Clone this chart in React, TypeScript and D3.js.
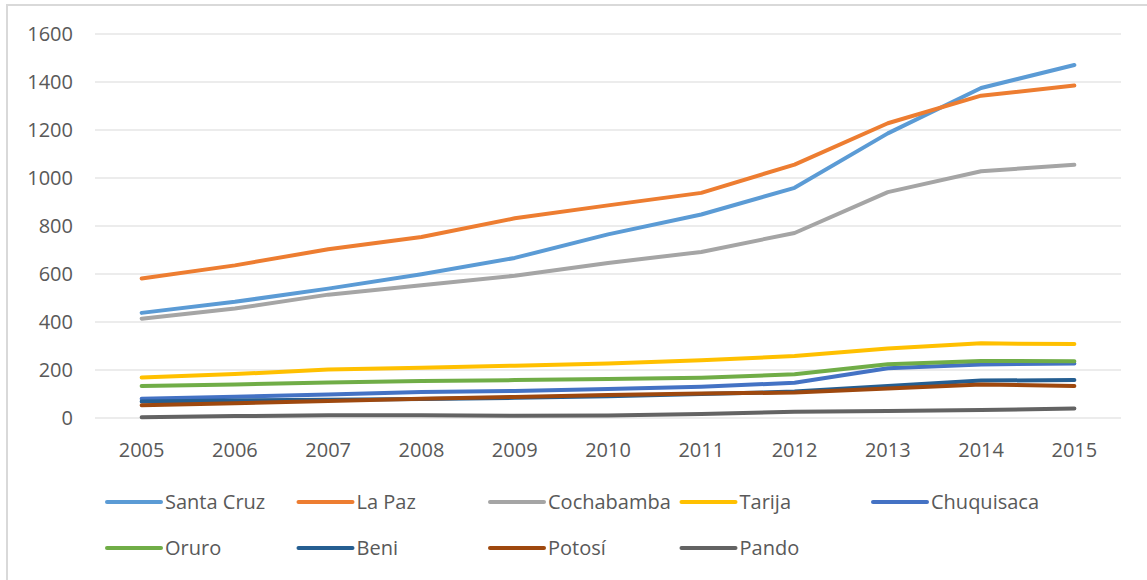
import React, { useEffect, useRef } from 'react';
import * as d3 from 'd3';

const years = ['2005', '2006', '2007', '2008', '2009', '2010', '2011', '2012', '2013', '2014', '2015'];
const yTicks = [0, 200, 400, 600, 800, 1000, 1200, 1400, 1600];

const santaCruz = [438, 484, 539, 599, 667, 765, 848, 959, 1186, 1375, 1471];
const laPaz = [581, 636, 703, 754, 832, 886, 938, 1056, 1228, 1343, 1385];
const cochabamba = [414, 456, 514, 553, 593, 646, 692, 771, 941, 1028, 1055];
const tarija = [169, 183, 202, 209, 218, 227, 241, 258, 290, 311, 308];
const chuquisaca = [80, 89, 98, 108, 113, 121, 130, 147, 207, 223, 227];
const oruro = [133, 140, 148, 154, 158, 162, 168, 182, 224, 238, 236];
const beni = [69, 73, 76, 79, 84, 91, 100, 110, 133, 156, 158];
const potosi = [53, 61, 71, 80, 88, 96, 102, 106, 123, 140, 133];
const pando = [3, 8, 11, 11, 9, 10, 17, 26, 29, 33, 40];

const series = [
    { name: 'Santa Cruz', color: '#5B9BD5', values: santaCruz },
    { name: 'La Paz', color: '#ED7D31', values: laPaz },
    { name: 'Cochabamba', color: '#A5A5A5', values: cochabamba },
    { name: 'Tarija', color: '#FFC000', values: tarija },
    { name: 'Chuquisaca', color: '#4472C4', values: chuquisaca },
    { name: 'Oruro', color: '#70AD47', values: oruro },
    { name: 'Beni', color: '#255E91', values: beni },
    { name: 'Potosí', color: '#9E480E', values: potosi },
    { name: 'Pando', color: '#636363', values: pando },
];

const W = 1147;
const H = 580;
const FONT = '"Open Sans", "Noto Sans", sans-serif';

export default function App() {
    const svgRef = useRef<SVGSVGElement>(null);

    useEffect(() => {
        if (!svgRef.current) return;
        const svg = d3.select(svgRef.current);
        svg.selectAll('*').remove();

        const margin = { top: 34, left: 95, right: 26, bottom: 162 };

        const x = d3.scaleBand()
            .domain(years)
            .range([margin.left, W - margin.right]);
        const y = d3.scaleLinear()
            .domain([0, 1600])
            .range([H - margin.bottom, margin.top]);
        const cx = (d: string) => (x(d) as number) + x.bandwidth() / 2;

        // chart area border
        svg.append('rect')
            .attr('x', 7).attr('y', 5)
            .attr('width', W + 20).attr('height', H + 20)
            .attr('fill', 'white')
            .attr('stroke', '#d9d9d9')
            .attr('stroke-width', 2);

        // gridlines + y labels
        const yAxis = svg.append('g');
        yAxis.selectAll('line')
            .data(yTicks)
            .join('line')
            .attr('x1', margin.left).attr('x2', W - margin.right)
            .attr('y1', d => y(d)).attr('y2', d => y(d))
            .attr('stroke', '#d9d9d9')
            .attr('stroke-width', 1.2);
        yAxis.selectAll('text')
            .data(yTicks)
            .join('text')
            .attr('x', 73)
            .attr('y', d => y(d))
            .attr('dy', '0.36em')
            .attr('text-anchor', 'end')
            .attr('font-family', FONT)
            .attr('font-size', 20)
            .attr('fill', '#595959')
            .text(d => String(d));

        // x labels
        svg.append('g').selectAll('text')
            .data(years)
            .join('text')
            .attr('x', d => cx(d))
            .attr('y', 457)
            .attr('text-anchor', 'middle')
            .attr('font-family', FONT)
            .attr('font-size', 20)
            .attr('fill', '#595959')
            .text(d => d);

        // series lines
        const line = d3.line<number>()
            .x((_, i) => cx(years[i]))
            .y(d => y(d));

        svg.append('g').selectAll('path')
            .data(series)
            .join('path')
            .attr('d', d => line(d.values))
            .attr('fill', 'none')
            .attr('stroke', d => d.color)
            .attr('stroke-width', 4)
            .attr('stroke-linejoin', 'round')
            .attr('stroke-linecap', 'round');

        // legend
        const colW = 191.5;
        const perRow = 5;
        const legend = svg.append('g');
        const items = legend.selectAll('g')
            .data(series)
            .join('g')
            .attr('transform', (_, i) => `translate(${107 + (i % perRow) * colW},${i < perRow ? 502 : 548})`);
        items.append('line')
            .attr('x1', 0).attr('x2', 54)
            .attr('y1', 0).attr('y2', 0)
            .attr('stroke', d => d.color)
            .attr('stroke-width', 4)
            .attr('stroke-linecap', 'round');
        items.append('text')
            .attr('x', 58)
            .attr('dy', '0.36em')
            .attr('font-family', FONT)
            .attr('font-size', 20)
            .attr('fill', '#595959')
            .text(d => d.name);
    }, []);

    return (
        <svg
            ref={svgRef}
            width={W}
            height={H}
            style={{ position: 'absolute', left: 0, top: 0, background: 'white' }}
        />
    );
}
